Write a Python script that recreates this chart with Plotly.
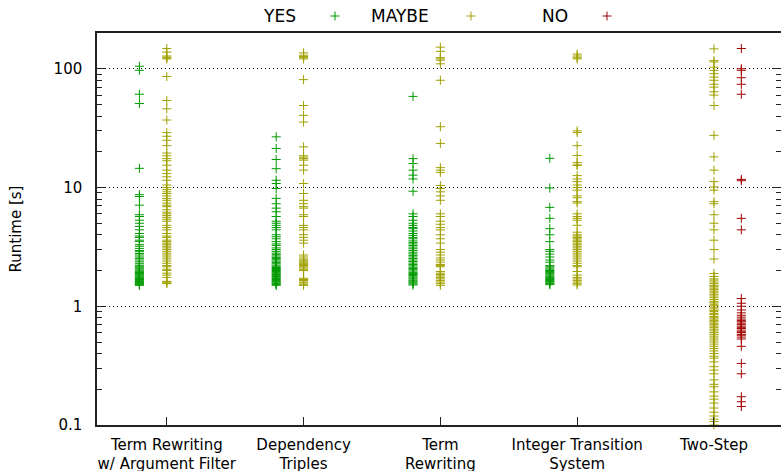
import plotly.graph_objects as go

# Problem categories (x axis) and their two-line tick labels
categories = [
    "Term Rewriting<br>w/ Argument Filter",
    "Dependency<br>Triples",
    "Term<br>Rewriting",
    "Integer Transition<br>System",
    "Two-Step",
]

# Runtimes in seconds, per category and result
yes_times = [
    [105, 97, 61, 51, 14.5, 8.7, 8.4, 7.1, 5.9, 5.7, 5.3, 5.0, 4.7, 4.4, 4.1, 3.9, 3.8, 3.6,
     3.5, 3.3, 3.2, 3.07, 2.95, 2.88, 2.78, 2.70, 2.6, 2.53, 2.45, 2.37, 2.3, 2.22, 2.18, 2.14,
     2.1, 2.06, 2.02, 1.98, 1.95, 1.92, 1.89, 1.86, 1.83, 1.8, 1.77, 1.74, 1.71, 1.68, 1.65,
     1.62, 1.6, 1.58, 1.56, 1.54, 1.52, 1.5],
    [26.7, 21.3, 17.2, 14.4, 11.5, 10.8, 9.8, 8.1, 7.3, 6.7, 6.25, 5.7, 5.2, 5.0, 4.8, 4.6,
     4.4, 4.0, 3.85, 3.7, 3.5, 3.35, 3.25, 3.1, 3.0, 2.9, 2.8, 2.72, 2.65, 2.58, 2.52, 2.46,
     2.4, 2.34, 2.28, 2.22, 2.17, 2.12, 2.08, 2.04, 2.0, 1.96, 1.92, 1.88, 1.85, 1.81, 1.78,
     1.74, 1.71, 1.68, 1.65, 1.62, 1.6, 1.57, 1.55, 1.52, 1.5],
    [58.5, 17.5, 15.9, 14, 12.7, 11.8, 9.3, 6.0, 5.7, 5.3, 5.0, 4.8, 4.6, 4.5, 4.3, 4.1,
     3.95, 3.8, 3.7, 3.55, 3.45, 3.35, 3.25, 3.15, 3.05, 2.95, 2.85, 2.76, 2.68, 2.6, 2.52,
     2.45, 2.38, 2.31, 2.25, 2.19, 2.13, 2.08, 2.03, 1.98, 1.93, 1.89, 1.85, 1.81, 1.77,
     1.73, 1.7, 1.66, 1.63, 1.6, 1.57, 1.54, 1.51],
    [17.6, 9.9, 6.8, 5.5, 4.5, 4.0, 3.5, 3.0, 2.9, 2.75, 2.6, 2.45, 2.35, 2.2, 2.15, 2.1,
     2.05, 2.0, 1.96, 1.92, 1.88, 1.84, 1.8, 1.77, 1.74, 1.71, 1.68, 1.65, 1.62, 1.6, 1.57,
     1.55, 1.52],
    [],
]

maybe_times = [
    [148, 138, 128, 125, 123, 121, 86, 54, 46, 37, 29, 27, 25, 22.5, 19.5, 18.5, 17.5, 16.8,
     15.4, 14, 13.1, 12.3, 11.5, 10.5, 10, 9.6, 9.2, 8.9, 8.5, 8.1, 7.8, 7.4, 7.1, 6.9, 6.5,
     6.2, 6.0, 5.8, 5.6, 5.4, 5.2, 4.8, 4.6, 4.4, 4.1, 3.9, 3.8, 3.6, 3.5, 3.4, 3.3, 3.2,
     3.1, 3.0, 2.9, 2.8, 2.7, 2.6, 2.5, 2.4, 2.3, 2.2, 2.15, 2.05, 2.0, 1.9, 1.83, 1.75,
     1.62, 1.6, 1.57, 1.55],
    [136, 130, 127, 124, 121, 81, 49, 40.5, 35.6, 22, 18.5, 18, 17.5, 17, 15.4, 14, 10.8,
     8.9, 7.8, 7.3, 6.9, 6.7, 5.9, 5.7, 4.8, 4.6, 4.4, 4.0, 3.8, 3.6, 3.4, 2.7, 2.6, 2.5,
     2.45, 2.4, 2.35, 2.3, 2.25, 2.2, 2.15, 2.1, 2.05, 2.0, 1.72, 1.68, 1.65, 1.6, 1.57,
     1.53, 1.5],
    [152, 140, 124, 121, 118, 110, 80, 32.5, 23.5, 14.7, 14, 13.4, 10.4, 9.8, 9.2, 8.5, 7.8,
     6.0, 5.7, 5.2, 4.9, 4.6, 4.4, 4.0, 3.7, 3.4, 3.0, 2.85, 2.7, 2.55, 2.45, 2.35, 2.25,
     2.2, 2.15, 1.96, 1.9, 1.85, 1.8, 1.75, 1.7, 1.65, 1.6, 1.55, 1.5],
    [133, 128, 124, 121, 30, 29, 22.5, 18.6, 16.2, 15.5, 15.3, 12.6, 11.8, 11.2, 10.5, 10,
     9.5, 8.5, 8.2, 7.6, 7.4, 6.0, 5.7, 5.5, 5.3, 4.8, 4.2, 4.0, 3.9, 3.8, 3.7, 3.6, 3.5,
     3.4, 3.3, 3.2, 3.1, 3.0, 2.9, 2.8, 2.7, 2.6, 2.5, 2.4, 2.3, 2.2, 2.15, 1.96, 1.83,
     1.75, 1.7, 1.65, 1.6, 1.55, 1.51],
    [147, 117, 114, 103, 97, 91, 85, 80, 74, 70, 64, 60, 49, 27.5, 18.1, 14, 11.2, 10.1,
     9.5, 7.6, 7.3, 5.9, 5.0, 4.4, 3.6, 3.0, 2.5, 1.89, 1.78, 1.7, 1.66, 1.6, 1.55, 1.5,
     1.46, 1.42, 1.38, 1.34, 1.3, 1.26, 1.22, 1.18, 1.14, 1.1, 1.07, 1.04, 1.01, 0.98,
     0.95, 0.92, 0.9, 0.87, 0.85, 0.82, 0.8, 0.78, 0.76, 0.74, 0.72, 0.7, 0.68, 0.66,
     0.64, 0.62, 0.6, 0.58, 0.56, 0.54, 0.52, 0.5, 0.48, 0.46, 0.44, 0.42, 0.4, 0.38,
     0.366, 0.34, 0.31, 0.29, 0.27, 0.24, 0.22, 0.21, 0.19, 0.175, 0.165, 0.153, 0.139,
     0.128, 0.119, 0.112, 0.107, 0.1],
]

no_times = [
    [], [], [], [],
    [148, 100, 97, 84, 74, 61, 11.7, 11.4, 5.5, 4.4, 1.16, 1.06, 1.0, 0.93, 0.88, 0.84,
     0.81, 0.78, 0.76, 0.74, 0.72, 0.7, 0.68, 0.66, 0.65, 0.63, 0.61, 0.6, 0.58, 0.57,
     0.55, 0.53, 0.46, 0.33, 0.27, 0.173, 0.157, 0.143],
]

YES_C, MAYBE_C, NO_C = "#009a00", "#a0a000", "#a00000"
series = [
    ("YES", yes_times, -0.2, YES_C),
    ("MAYBE", maybe_times, 0.0, MAYBE_C),
    ("NO", no_times, 0.2, NO_C),
]

FONT = "DejaVu Sans"
W, H = 781, 471
ML, MR, MT, MB = 97, 0, 33, 46

fig = go.Figure()
for name, per_cat, offset, color in series:
    xs, ys = [], []
    for i, vals in enumerate(per_cat):
        xs += [i + offset] * len(vals)
        ys += vals
    fig.add_trace(go.Scatter(
        x=xs, y=ys, mode="markers", name=name, showlegend=False,
        cliponaxis=False,
        marker=dict(symbol="cross-thin", size=6.5, color=color,
                    line=dict(color=color, width=1)),
    ))

# Key along the top: label followed by its marker sample
pw, ph = W - ML - MR, H - MT - MB
key = [("YES", 279, 335, YES_C), ("MAYBE", 400, 471, MAYBE_C), ("NO", 555, 607, NO_C)]
ky = 16
for label, tx, mx, color in key:
    fig.add_annotation(text=label, xref="paper", yref="paper",
                       x=(tx - ML) / pw, y=(H - MB - ky) / ph,
                       xanchor="center", yanchor="middle", showarrow=False,
                       font=dict(family=FONT, size=17, color="black"))
    for dx0, dy0, dx1, dy1 in [(-4.5, 0, 4.5, 0), (0, -4.5, 0, 4.5)]:
        fig.add_shape(type="line", xref="paper", yref="paper",
                      x0=(mx + dx0 - ML) / pw, x1=(mx + dx1 - ML) / pw,
                      y0=(H - MB - ky - dy0) / ph, y1=(H - MB - ky - dy1) / ph,
                      line=dict(color=color, width=1))

minor_vals = [m * 10 ** e for e in (-1, 0, 1, 2) for m in range(2, 10) if m * 10 ** e < 200]

fig.update_layout(
    width=W, height=H,
    margin=dict(l=ML, r=MR, t=MT, b=MB, pad=0, autoexpand=False),
    paper_bgcolor="white", plot_bgcolor="white",
    font=dict(family=FONT, size=15, color="black"),
    xaxis=dict(
        range=[-0.51, 4.49], tickmode="array", tickvals=list(range(len(categories))),
        ticktext=categories, ticks="inside", ticklen=8, tickcolor="#222",
        showgrid=False, zeroline=False, showline=True, linecolor="#222",
        linewidth=1.5, mirror=True, ticklabelstandoff=5, automargin=False,
        tickfont=dict(family=FONT, size=15),
    ),
    yaxis=dict(
        type="log", range=[-1, 2.301], tickmode="array",
        tickvals=[0.1, 1, 10, 100], ticktext=["0.1", "1", "10", "100"],
        ticks="inside", ticklen=9, tickcolor="#222", automargin=False,
        showline=True, linecolor="#222", linewidth=1.5, mirror="ticks",
        showgrid=True, gridcolor="black", gridwidth=1, griddash="1px,3px",
        zeroline=False, ticklabelstandoff=10,
        minor=dict(tickmode="array", tickvals=minor_vals, ticks="inside",
                   ticklen=5, tickcolor="#222", showgrid=False),
        title=dict(text="Runtime [s]", standoff=28,
                   font=dict(family=FONT, size=15)),
        tickfont=dict(family=FONT, size=15),
    ),
)

fig.write_html("out.html")
